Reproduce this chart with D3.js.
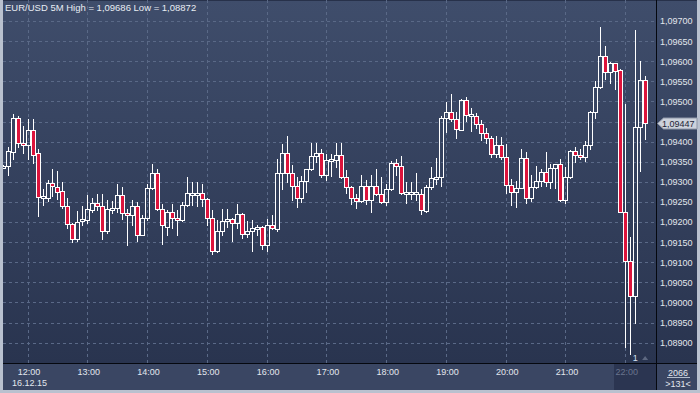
<!DOCTYPE html>
<html><head><meta charset="utf-8">
<script src="https://cdn.jsdelivr.net/npm/d3@7"></script>
<style>html,body{margin:0;padding:0;background:#b9c1cf;overflow:hidden}svg{display:block}</style>
</head><body><svg id="c" width="700" height="393"></svg>
<script>
const times = ["11:35","11:40","11:45","11:50","11:55",
"12:00","12:05","12:10","12:15","12:20","12:25","12:30","12:35","12:40","12:45","12:50","12:55",
"13:00","13:05","13:10","13:15","13:20","13:25","13:30","13:35","13:40","13:45","13:50","13:55",
"14:00","14:05","14:10","14:15","14:20","14:25","14:30","14:35","14:40","14:45","14:50","14:55",
"15:00","15:05","15:10","15:15","15:20","15:25","15:30","15:35","15:40","15:45","15:50","15:55",
"16:00","16:05","16:10","16:15","16:20","16:25","16:30","16:35","16:40","16:45","16:50","16:55",
"17:00","17:05","17:10","17:15","17:20","17:25","17:30","17:35","17:40","17:45","17:50","17:55",
"18:00","18:05","18:10","18:15","18:20","18:25","18:30","18:35","18:40","18:45","18:50","18:55",
"19:00","19:05","19:10","19:15","19:20","19:25","19:30","19:35","19:40","19:45","19:50","19:55",
"20:00","20:05","20:10","20:15","20:20","20:25","20:30","20:35","20:40","20:45","20:50","20:55",
"21:00","21:05","21:10","21:15","21:20","21:25","21:30","21:35","21:40","21:45","21:50","21:55",
"22:00","22:05","22:10","22:15","22:20"];

const open = [1.09339,1.09340,1.09375,1.09458,1.09398,1.09393,1.09429,1.09371,1.09263,1.09261,
1.09298,1.09288,1.09277,1.09241,1.09196,1.09158,1.09202,1.09206,1.09231,1.09248,
1.09240,1.09178,1.09231,1.09236,1.09267,1.09223,1.09217,1.09239,1.09168,1.09211,
1.09286,1.09323,1.09233,1.09189,1.09224,1.09211,1.09204,1.09243,1.09269,1.09269,
1.09273,1.09258,1.09211,1.09127,1.09179,1.09202,1.09208,1.09198,1.09221,1.09171,
1.09179,1.09183,1.09189,1.09143,1.09193,1.09183,1.09323,1.09373,1.09321,1.09290,
1.09261,1.09302,1.09331,1.09364,1.09373,1.09317,1.09353,1.09354,1.09367,1.09313,
1.09288,1.09260,1.09252,1.09290,1.09256,1.09290,1.09271,1.09250,1.09283,1.09348,
1.09339,1.09271,1.09272,1.09272,1.09271,1.09228,1.09287,1.09310,1.09313,1.09458,
1.09474,1.09457,1.09430,1.09503,1.09466,1.09465,1.09444,1.09422,1.09409,1.09369,
1.09392,1.09361,1.09292,1.09275,1.09286,1.09360,1.09261,1.09288,1.09302,1.09324,
1.09299,1.09334,1.09344,1.09255,1.09313,1.09377,1.09368,1.09363,1.09392,1.09473,
1.09535,1.09613,1.09574,1.09595,1.09578,1.09226,1.09104,1.09017,1.09437,1.09553];

const high = [1.09342,1.09388,1.09469,1.09465,1.09439,1.09456,1.09457,1.09383,1.09283,1.09304,
1.09331,1.09327,1.09300,1.09261,1.09198,1.09227,1.09241,1.09268,1.09260,1.09271,
1.09271,1.09255,1.09252,1.09294,1.09288,1.09233,1.09256,1.09250,1.09217,1.09296,
1.09344,1.09332,1.09244,1.09229,1.09244,1.09231,1.09250,1.09311,1.09300,1.09300,
1.09296,1.09259,1.09231,1.09204,1.09233,1.09233,1.09211,1.09246,1.09223,1.09202,
1.09204,1.09193,1.09190,1.09208,1.09218,1.09356,1.09394,1.09415,1.09342,1.09311,
1.09314,1.09333,1.09398,1.09398,1.09382,1.09369,1.09369,1.09396,1.09396,1.09329,
1.09289,1.09271,1.09318,1.09304,1.09317,1.09333,1.09313,1.09296,1.09353,1.09357,
1.09365,1.09300,1.09300,1.09321,1.09283,1.09292,1.09336,1.09359,1.09464,1.09498,
1.09518,1.09473,1.09507,1.09511,1.09484,1.09471,1.09454,1.09434,1.09413,1.09413,
1.09411,1.09394,1.09308,1.09303,1.09382,1.09375,1.09317,1.09339,1.09332,1.09375,
1.09344,1.09345,1.09357,1.09338,1.09379,1.09387,1.09382,1.09402,1.09476,1.09551,
1.09686,1.09638,1.09599,1.09596,1.09581,1.09495,1.09164,1.09678,1.09600,1.09563];

const low = [1.09336,1.09317,1.09357,1.09388,1.09373,1.09357,1.09348,1.09215,1.09242,1.09253,
1.09265,1.09257,1.09235,1.09185,1.09150,1.09152,1.09193,1.09198,1.09225,1.09231,
1.09158,1.09172,1.09223,1.09225,1.09208,1.09142,1.09194,1.09152,1.09167,1.09204,
1.09283,1.09229,1.09146,1.09167,1.09186,1.09169,1.09202,1.09239,1.09242,1.09239,
1.09239,1.09192,1.09121,1.09125,1.09167,1.09188,1.09154,1.09186,1.09161,1.09164,
1.09127,1.09168,1.09133,1.09129,1.09183,1.09179,1.09283,1.09300,1.09254,1.09238,
1.09250,1.09275,1.09330,1.09350,1.09313,1.09304,1.09315,1.09338,1.09310,1.09273,
1.09246,1.09235,1.09250,1.09246,1.09225,1.09267,1.09248,1.09242,1.09279,1.09317,
1.09271,1.09248,1.09258,1.09256,1.09221,1.09226,1.09282,1.09295,1.09290,1.09424,
1.09451,1.09409,1.09429,1.09451,1.09426,1.09434,1.09403,1.09398,1.09361,1.09363,
1.09357,1.09273,1.09242,1.09238,1.09284,1.09247,1.09253,1.09285,1.09290,1.09290,
1.09285,1.09285,1.09253,1.09247,1.09310,1.09350,1.09357,1.09352,1.09383,1.09460,
1.09533,1.09556,1.09547,1.09531,1.09224,1.08890,1.08872,1.08950,1.09328,1.09407];

const close = [1.09340,1.09377,1.09458,1.09398,1.09393,1.09429,1.09368,1.09263,1.09265,1.09298,
1.09289,1.09275,1.09240,1.09196,1.09158,1.09200,1.09207,1.09232,1.09248,1.09241,
1.09177,1.09232,1.09236,1.09267,1.09223,1.09217,1.09239,1.09168,1.09211,1.09286,
1.09323,1.09233,1.09192,1.09224,1.09211,1.09204,1.09243,1.09273,1.09273,1.09273,
1.09258,1.09211,1.09127,1.09179,1.09202,1.09208,1.09198,1.09221,1.09171,1.09179,
1.09185,1.09189,1.09143,1.09193,1.09186,1.09323,1.09373,1.09321,1.09290,1.09261,
1.09302,1.09331,1.09364,1.09373,1.09317,1.09354,1.09356,1.09367,1.09313,1.09288,
1.09260,1.09252,1.09290,1.09256,1.09290,1.09271,1.09250,1.09283,1.09348,1.09339,
1.09273,1.09275,1.09275,1.09275,1.09229,1.09287,1.09310,1.09313,1.09458,1.09474,
1.09457,1.09432,1.09503,1.09467,1.09468,1.09444,1.09422,1.09409,1.09369,1.09392,
1.09361,1.09292,1.09275,1.09286,1.09359,1.09260,1.09288,1.09302,1.09324,1.09299,
1.09334,1.09344,1.09255,1.09313,1.09377,1.09368,1.09363,1.09392,1.09473,1.09535,
1.09613,1.09574,1.09595,1.09576,1.09226,1.09104,1.09017,1.09437,1.09553,1.09447];

const priceTicks = [1.08900,1.08950,1.09000,1.09050,1.09100,1.09150,1.09200,1.09250,1.09300,
1.09350,1.09400,1.09450,1.09500,1.09550,1.09600,1.09650,1.09700];
const hourTicks = ["12:00","13:00","14:00","15:00","16:00","17:00","18:00","19:00","20:00","21:00","22:00"];
const symbol = "EUR/USD", period = "5M";
const dayHigh = 1.09686, dayLow = 1.08872, lastPrice = 1.09447;
const dateLabel = "16.12.15", barsLabel = "2066", shiftLabel = ">131<";
const chartDate = "2015-12-16";

const FONT = "'Liberation Sans', Arial, sans-serif";
const svg = d3.select("#c");
const parse = d3.timeParse("%Y-%m-%d %H:%M");
const t = times.map(s => parse(chartDate + " " + s));
const x = d3.scaleTime().domain([t[0], t[t.length - 1]]).range([3.7, 646.1]);
const y = d3.scaleLinear().domain([1.0885, 1.0975]).range([362.8, 1.0]);
const fmt = p => d3.format(".5f")(p).replace(".", ",");

const defs = svg.append("defs");
const g1 = defs.append("linearGradient").attr("id", "bg").attr("x1", 0).attr("y1", 0).attr("x2", 0).attr("y2", 1);
g1.append("stop").attr("offset", "0%").attr("stop-color", "#3f4d6b");
g1.append("stop").attr("offset", "100%").attr("stop-color", "#29344f");
defs.append("clipPath").attr("id", "plotclip").append("rect").attr("x", 3).attr("y", 0).attr("width", 653).attr("height", 363);

// frame & backgrounds
svg.append("rect").attr("x", 0).attr("y", 0).attr("width", 700).attr("height", 393).attr("fill", "#b9c1cf");
svg.append("rect").attr("x", 3).attr("y", 0).attr("width", 694).attr("height", 363).attr("fill", "url(#bg)");
svg.append("rect").attr("x", 3).attr("y", 364).attr("width", 694).attr("height", 26).attr("fill", "#3a4663");
svg.append("line").attr("x1", 3).attr("x2", 697).attr("y1", 0.5).attr("y2", 0.5).attr("stroke", "#27314a");

// gridlines
const grid = svg.append("g").attr("clip-path", "url(#plotclip)");
grid.selectAll("line.h").data(priceTicks).join("line").attr("class", "h")
  .attr("x1", 3).attr("x2", 656)
  .attr("y1", d => Math.round(y(d)) + 0.5).attr("y2", d => Math.round(y(d)) + 0.5)
  .attr("stroke", "#5a6987").attr("stroke-dasharray", "3,3");
const hourDates = hourTicks.map(s => parse(chartDate + " " + s));
grid.selectAll("line.v").data(hourDates).join("line").attr("class", "v")
  .attr("x1", d => Math.round(x(d)) - 0.5).attr("x2", d => Math.round(x(d)) - 0.5)
  .attr("y1", 0).attr("y2", 363)
  .attr("stroke", "#5a6987").attr("stroke-dasharray", "3,3");

// candles
const data = t.map((d, i) => ({t: d, o: open[i], h: high[i], l: low[i], c: close[i]}));
const cg = svg.append("g").attr("clip-path", "url(#plotclip)").attr("shape-rendering", "crispEdges");
data.forEach(d => {
  const cx = Math.round(x(d.t));
  let yT = Math.round(y(Math.max(d.o, d.c))) + 0.5;
  let yB = Math.round(y(Math.min(d.o, d.c))) + 0.5;
  if (yB - yT < 2) yB = yT + 2;
  const yH = Math.round(y(d.h)), yL = Math.round(y(d.l));
  const wx = cx - 0.5;
  if (yH < yT) cg.append("line").attr("x1", wx).attr("x2", wx).attr("y1", yH).attr("y2", yT).attr("stroke", "#fff");
  if (yL > yB) cg.append("line").attr("x1", wx).attr("x2", wx).attr("y1", yB).attr("y2", yL + 1).attr("stroke", "#fff");
  cg.append("rect").attr("x", cx - 2.5).attr("y", yT).attr("width", 4).attr("height", yB - yT)
    .attr("fill", d.c < d.o ? "#dc143c" : "none").attr("stroke", "#fff").attr("stroke-width", 1);
});

// separators
svg.append("line").attr("x1", 656.5).attr("x2", 656.5).attr("y1", 0).attr("y2", 390).attr("stroke", "#05080f");
svg.append("line").attr("x1", 3).attr("x2", 697).attr("y1", 363.5).attr("y2", 363.5).attr("stroke", "#05080f");

// right price axis (the label hidden under the last-price tag is not shown)
const axisTicks = priceTicks.filter(p => Math.abs(p - lastPrice) > 0.0002);
const yAxis = d3.axisRight(y).tickValues(axisTicks).tickFormat(fmt).tickSize(0).tickPadding(3);
const ya = svg.append("g").attr("transform", "translate(657,0)").call(yAxis);
ya.select(".domain").remove();
ya.selectAll("text").attr("fill", "#e3e7ee").attr("font-family", FONT).attr("font-size", "9px");

// last price tag
const py = Math.round(y(lastPrice)) + 0.5;
svg.append("path").attr("d", `M657.5,${py} L663.5,${py-5.5} L697,${py-5.5} L697,${py+5.5} L663.5,${py+5.5} Z`)
  .attr("fill", "#cdd2dc").attr("stroke", "#8e97a8");
svg.append("text").attr("x", 662).attr("y", py + 3.3).text(fmt(lastPrice))
  .attr("fill", "#1d2436").attr("font-family", FONT).attr("font-size", "9px");

// bottom time axis
svg.append("rect").attr("x", 614).attr("y", 364).attr("width", 42).attr("height", 26).attr("fill", "#2b3551");
const xAxis = d3.axisBottom(x).tickValues(hourDates).tickFormat(d3.timeFormat("%H:%M")).tickSize(0).tickPadding(5.5);
const xa = svg.append("g").attr("transform", "translate(0,363)").call(xAxis);
xa.select(".domain").remove();
xa.selectAll("text").attr("fill", (d, i) => i === hourDates.length - 1 ? "#69748d" : "#e3e7ee")
  .attr("font-family", FONT).attr("font-size", "9px");
svg.append("text").attr("x", x(hourDates[0]) + 1).attr("y", 386).attr("text-anchor", "middle").text(dateLabel)
  .attr("fill", "#e3e7ee").attr("font-family", FONT).attr("font-size", "9px");

// right bottom counters
svg.append("text").attr("x", 678).attr("y", 375.5).attr("text-anchor", "middle").text(barsLabel)
  .attr("fill", "#e3e7ee").attr("font-family", FONT).attr("font-size", "9px");
svg.append("line").attr("x1", 667).attr("x2", 690).attr("y1", 377.5).attr("y2", 377.5).attr("stroke", "#b5bdcc");
svg.append("text").attr("x", 678).attr("y", 386.5).attr("text-anchor", "middle").text(shiftLabel)
  .attr("fill", "#e3e7ee").attr("font-family", FONT).attr("font-size", "9px");

// small marker near last bars
svg.append("text").attr("x", x(t[127]) - 1).attr("y", 361).attr("text-anchor", "middle").text("1")
  .attr("fill", "#d6e2f5").attr("font-family", FONT).attr("font-size", "9px");
const mx = x(t[129]) - 1;
svg.append("path").attr("d", `M${mx-3},360 L${mx},356 L${mx+3},360 Z`).attr("fill", "#5d6880");

// title
svg.append("text").attr("x", 5).attr("y", 11).text(`${symbol} ${period} High = ${fmt(dayHigh)} Low = ${fmt(dayLow)}`)
  .attr("fill", "#e8ecf3").attr("font-family", FONT).attr("font-size", "9.5px");
</script></body></html>
